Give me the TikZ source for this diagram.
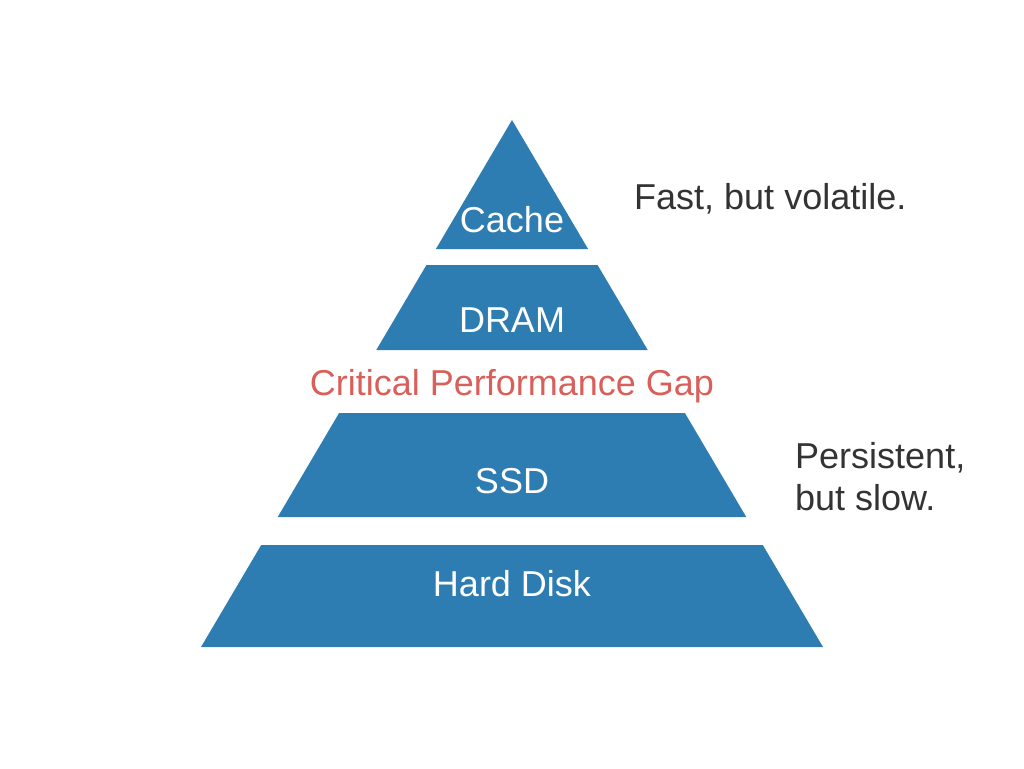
\documentclass[tikz,border=0pt]{standalone}
\usepackage{fontspec}
\setmainfont{Liberation Sans}
\definecolor{tierblue}{RGB}{45,125,178}
\definecolor{gapred}{RGB}{217,96,90}
\definecolor{notegray}{RGB}{51,51,51}
\tikzset{
  tier/.style={fill=tierblue},
  tierlabel/.style={text=white,inner sep=0pt,anchor=base,font=\fontsize{36}{42}\selectfont},
  note/.style={text=notegray,inner sep=0pt,font=\fontsize{36}{42}\selectfont,align=left},
}
\begin{document}
\begin{tikzpicture}[x=1pt,y=1pt]
\useasboundingbox (0,0) rectangle (1024,-768);
% pyramid tiers: top/bottom edge (px from top), sides slope 311/527
\fill[tier] (512,-120) -- (588.1,-249) -- (435.9,-249) -- cycle;
\foreach \top/\bot in {265/350,413/517,545/647}{
  \pgfmathsetmacro\wt{0.5901*(\top-120)}
  \pgfmathsetmacro\wb{0.5901*(\bot-120)}
  \fill[tier] (512-\wt,-\top) -- (512+\wt,-\top) -- (512+\wb,-\bot) -- (512-\wb,-\bot) -- cycle;
}
\node(cache) at (512,-232)[tierlabel]     {Cache};
\node(dram)  at (512,-332)[tierlabel]     {DRAM};
\node(gap)   at (512,-395)[tierlabel,text=gapred] {Critical Performance Gap};
\node(ssd)   at (512,-493)[tierlabel]     {SSD};
\node(hdd)   at (512,-596)[tierlabel]     {Hard Disk};
\node(fast)  at (634,-209)[note,anchor=base west] {Fast, but volatile.};
\node(slow)  at (795,-510)[note,anchor=base west] {Persistent,\\but slow.};
\end{tikzpicture}
\end{document}
